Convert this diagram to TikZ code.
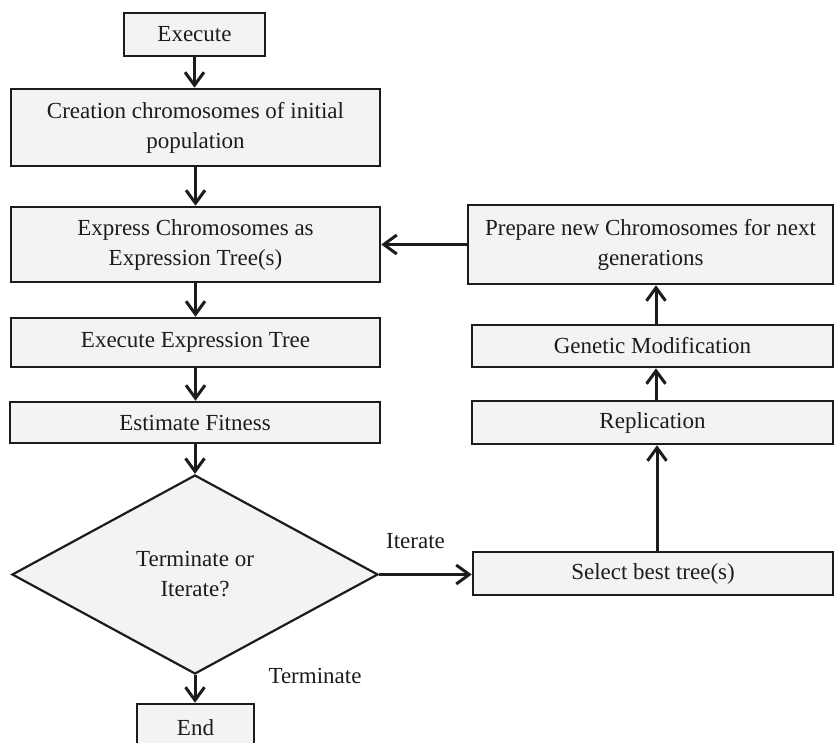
\documentclass[tikz,border=0pt]{standalone}
\usepackage{fontspec}
\setmainfont{Liberation Serif}
\usetikzlibrary{shapes.geometric,arrows.meta}
\definecolor{boxfill}{HTML}{F3F3F3}
\definecolor{ink}{HTML}{1C1C1C}
\begin{document}
\begin{tikzpicture}[x=1pt,y=-1pt,
  every node/.style={font=\fontsize{23}{30}\selectfont, text=ink},
  box/.style={draw=ink, line width=2.5pt, fill=boxfill, rectangle, inner sep=0pt, align=center},
  decision/.style={draw=ink, line width=2.2pt, fill=boxfill, diamond, aspect=1.84, inner sep=0pt, align=center},
  lbl/.style={inner sep=0pt},
  arr/.style={draw=ink, line width=3pt, -{Straight Barb[length=13pt,width=19pt]}}]
\useasboundingbox (0,0) rectangle (834,743);

% left column
\node[box, minimum width=141pt, minimum height=43pt] (exec) at (194.5,34.5) {Execute};
\node[box, minimum width=369pt, minimum height=77pt] (create) at (195.5,127.5) {Creation chromosomes of initial\\population};
\node[box, minimum width=369pt, minimum height=75pt] (express) at (195.5,244.5) {Express Chromosomes as\\Expression Tree(s)};
\node[box, minimum width=369pt, minimum height=49pt] (runtree) at (195.5,342.5) {Execute Expression Tree};
\node[box, minimum width=370pt, minimum height=41pt] (fitness) at (195,422.5) {Estimate Fitness};
\node[decision, minimum width=366pt, minimum height=199pt] (choice) at (195,574.5) {Terminate or\\Iterate?};
\node[box, minimum width=117pt, minimum height=48pt] (finish) at (195.5,728) {End};

% right column
\node[box, minimum width=365pt, minimum height=79pt] (prepare) at (650.5,244.5) {Prepare new Chromosomes for next\\generations};
\node[box, minimum width=361pt, minimum height=42pt] (genmod) at (652.5,346) {Genetic Modification};
\node[box, minimum width=361pt, minimum height=43pt] (replic) at (652.5,422.5) {Replication};
\node[box, minimum width=360pt, minimum height=43pt] (select) at (653,573.5) {Select best tree(s)};

% branch labels
\node[lbl] (itlbl) at (415.5,541) {Iterate};
\node[lbl] (termlbl) at (315,676) {Terminate};

% main flow
\draw[arr] (exec.south) -- (exec.south |- create.north);
\draw[arr] (create.south) -- (create.south |- express.north);
\draw[arr] (express.south) -- (express.south |- runtree.north);
\draw[arr] (runtree.south) -- (runtree.south |- fitness.north);
\draw[arr] (fitness.south) -- (choice.north);
\draw[arr] (choice.south) -- (choice.south |- finish.north);

% iteration loop
\draw[arr] (choice.east) -- (choice.east -| select.west);
\draw[arr] ([xshift=4pt]select.north) -- ([xshift=4pt]select.north |- replic.south);
\draw[arr] ([xshift=3.5pt]replic.north) -- ([xshift=3.5pt]replic.north |- genmod.south);
\draw[arr] ([xshift=3.5pt]genmod.north) -- ([xshift=3.5pt]genmod.north |- prepare.south);
\draw[arr] (prepare.west) -- (prepare.west -| express.east);
\end{tikzpicture}
\end{document}
